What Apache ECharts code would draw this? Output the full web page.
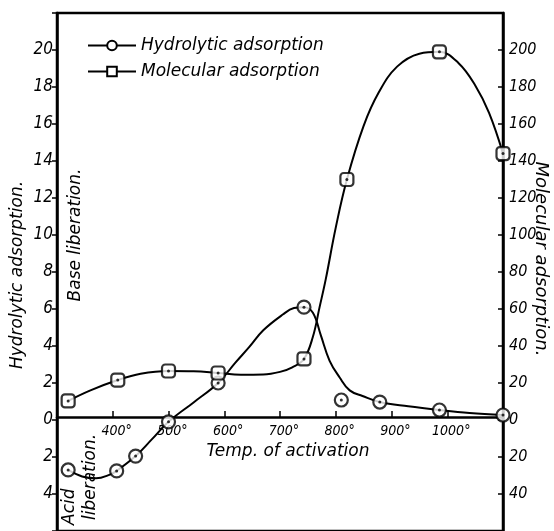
<!DOCTYPE html>
<html>
<head>
<meta charset="utf-8">
<script src="https://cdn.jsdelivr.net/npm/echarts@6/dist/echarts.min.js"></script>
<style>
  html, body { margin: 0; padding: 0; background: #fff; }
  #main { width: 554px; height: 531px; }
</style>
</head>
<body>
<div id="main"></div>
<script>
// measured points (temp °C, value)
const hydroPoints = [[320, -2.7], [407, -2.75], [441, -1.95], [500, -0.1], [589, 2.0], [743, 6.1], [810, 1.08], [879, 0.97], [986, 0.54], [1100, 0.27]]
const moleculPoints = [[320, 10.3], [409, 21.6], [500, 26.5], [589, 25.4], [743, 33], [820, 130], [986, 199], [1100, 144]]

// hand drawn curves
const hydroCurve = [[320, -2.7], [345, -3.05], [370, -3.15], [395, -2.95], [407, -2.75], [441, -1.95], [470, -1.05], [500, -0.1],
  [545, 0.95], [589, 2.0], [620, 3.1], [645, 3.95], [670, 4.85], [705, 5.7], [725, 6.05], [743, 6.1], [759, 5.8], [773, 4.6],
  [789, 3.2], [807, 2.3], [825, 1.6], [848, 1.3], [879, 0.97], [930, 0.74], [986, 0.54], [1040, 0.38], [1100, 0.27]]
const moleculCurve = [[320, 10.3], [360, 16], [409, 21.6], [450, 25], [500, 26.5], [545, 26.3], [589, 25.4], [630, 24.5],
  [670, 24.6], [700, 26], [722, 28.5], [743, 33], [759, 45], [771, 61], [782, 76], [800, 104], [820, 130], [850, 159],
  [877, 177], [910, 191], [950, 198], [986, 199], [1020, 193], [1050, 181], [1075, 166], [1100, 144]]

const xTicks = [400, 500, 600, 700, 800, 900, 1000]

const cond = 'DejaVu Sans Condensed'
const titleFont = 'italic 17px "DejaVu Sans"'

const myChart = echarts.init(document.querySelector('#main'))

myChart.setOption({
  animation: false,
  grid: {
    left: 57, right: 51, top: 13, bottom: -3,
    show: true, borderColor: '#000', borderWidth: 2.5
  },
  legend: {
    data: ['Hydrolytic adsorption', 'Molecular adsorption'],
    orient: 'vertical',
    left: 82, top: 32,
    itemWidth: 48, itemHeight: 12, itemGap: 9,
    textStyle: { fontFamily: 'DejaVu Sans', fontStyle: 'italic', fontSize: 17, color: '#000' }
  },
  xAxis: {
    type: 'value', min: 300, max: 1100, interval: 100,
    // axis sits on the zero line, 114px above the grid bottom
    offset: -114,
    axisLine: { onZero: false, lineStyle: { color: '#000', width: 2.5 } },
    axisTick: { inside: true, length: 6, lineStyle: { color: '#000', width: 1.5 } },
    axisLabel: {
      margin: 7, padding: [0, 0, 0, 8], fontFamily: cond, fontStyle: 'italic', fontSize: 14, color: '#000',
      formatter: v => xTicks.includes(v) ? v + '°' : ''
    },
    splitLine: { show: false }
  },
  yAxis: [
    {
      type: 'value', min: -6, max: 22, interval: 2, position: 'left',
      axisLine: { show: true, lineStyle: { color: '#000', width: 2.5 } },
      axisTick: { show: true, length: 5, lineStyle: { color: '#000', width: 1.5 } },
      axisLabel: {
        margin: 4, fontFamily: cond, fontStyle: 'italic', fontSize: 17, color: '#000',
        formatter: v => (v === -6 || v === 22) ? '' : Math.abs(v)
      },
      splitLine: { show: false }
    },
    {
      type: 'value', min: -60, max: 220, interval: 20, position: 'right',
      axisLine: { show: true, lineStyle: { color: '#000', width: 2.5 } },
      axisTick: { show: true, inside: true, length: 5, lineStyle: { color: '#000', width: 1.5 } },
      axisLabel: {
        margin: 6, fontFamily: cond, fontStyle: 'italic', fontSize: 16, color: '#000',
        formatter: v => (v === -60 || v === 220) ? '' : Math.abs(v)
      },
      splitLine: { show: false }
    }
  ],
  series: [
    {
      name: 'Hydrolytic adsorption', type: 'line', smooth: 0.4,
      data: hydroCurve, showSymbol: false, symbol: 'emptyCircle', symbolSize: 11,
      lineStyle: { color: '#000', width: 2 }, itemStyle: { color: '#000' }, z: 2
    },
    {
      name: 'Molecular adsorption', type: 'line', smooth: 0.4, yAxisIndex: 1,
      data: moleculCurve, showSymbol: false, symbol: 'emptyRect', symbolSize: 11,
      lineStyle: { color: '#000', width: 2 }, itemStyle: { color: '#000' }, z: 2
    },
    // markers: open symbol with a dot in the middle
    {
      name: 'hMarks', type: 'scatter', data: hydroPoints, symbol: 'circle', symbolSize: 13,
      itemStyle: { color: '#fff', borderColor: '#000', borderWidth: 2.2 }, z: 3
    },
    {
      name: 'hDots', type: 'scatter', data: hydroPoints, symbol: 'circle', symbolSize: 3,
      itemStyle: { color: '#000' }, z: 4
    },
    {
      name: 'mMarks', type: 'scatter', yAxisIndex: 1, data: moleculPoints, symbol: 'roundRect', symbolSize: 13,
      itemStyle: { color: '#fff', borderColor: '#000', borderWidth: 2.2 }, z: 3
    },
    {
      name: 'mDots', type: 'scatter', yAxisIndex: 1, data: moleculPoints, symbol: 'circle', symbolSize: 3,
      itemStyle: { color: '#000' }, z: 4
    }
  ],
  graphic: [
    { type: 'text', x: 18, y: 275, rotation: Math.PI / 2,
      style: { text: 'Hydrolytic adsorption.', font: titleFont, fill: '#000', align: 'center', verticalAlign: 'middle' } },
    { type: 'text', x: 76, y: 235, rotation: Math.PI / 2,
      style: { text: 'Base liberation.', font: titleFont, fill: '#000', align: 'center', verticalAlign: 'middle' } },
    { type: 'text', x: 70, y: 525, rotation: Math.PI / 2,
      style: { text: 'Acid', font: titleFont, fill: '#000', align: 'left', verticalAlign: 'middle' } },
    { type: 'text', x: 91, y: 520, rotation: Math.PI / 2,
      style: { text: 'liberation.', font: titleFont, fill: '#000', align: 'left', verticalAlign: 'middle' } },
    { type: 'text', x: 541, y: 259, rotation: -Math.PI / 2,
      style: { text: 'Molecular adsorption.', font: 'italic 18px "DejaVu Sans"', fill: '#000', align: 'center', verticalAlign: 'middle' } },
    { type: 'text', x: 288, y: 452,
      style: { text: 'Temp. of activation', font: titleFont, fill: '#000', align: 'center', verticalAlign: 'middle' } }
  ]
})
</script>
</body>
</html>
